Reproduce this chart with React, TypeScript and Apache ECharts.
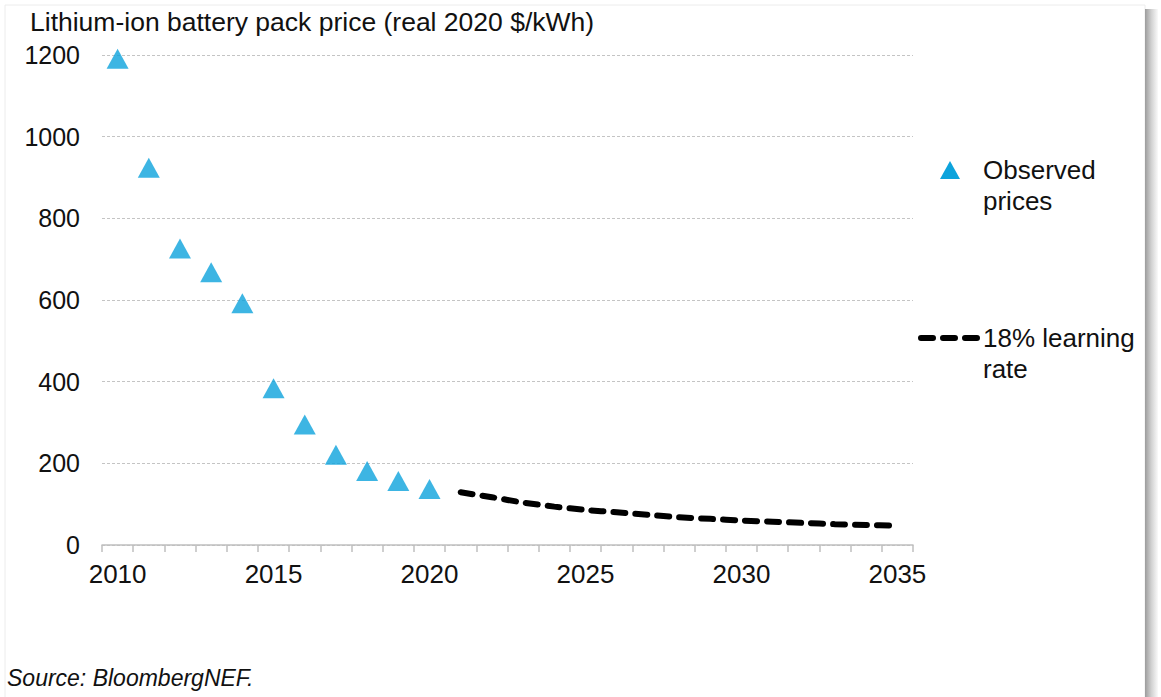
import React, { useEffect, useRef } from "react";
import * as echarts from "echarts";

const years: string[] = [
  "2010", "2011", "2012", "2013", "2014", "2015", "2016", "2017", "2018",
  "2019", "2020", "2021", "2022", "2023", "2024", "2025", "2026", "2027",
  "2028", "2029", "2030", "2031", "2032", "2033", "2034", "2035",
];
const observedPrices: (number | null)[] = [
  1191, 924, 726, 668, 592, 384, 295, 221, 181, 157, 137,
];
const learningRate: (number | null)[] = [
  null, null, null, null, null, null, null, null, null, null, null,
  129, 117, 104, 94, 86, 80, 74, 68, 64, 60, 57, 54, 51, 49, 47.5,
];
const yTicks = { min: 0, max: 1200, interval: 200 };

const FONT = "'Liberation Sans', Arial, sans-serif";
const BLUE = "#0da3dc";

export default function App() {
  const ref = useRef<HTMLDivElement>(null);
  useEffect(() => {
    document.body.style.margin = "0";
    if (!ref.current) return;
    const chart = echarts.init(ref.current, null, { renderer: "svg" });
    chart.setOption({
      animation: false,
      backgroundColor: "#ffffff",
      grid: {
        left: 102,
        right: 1161 - 913,
        top: 55,
        bottom: 697 - 545,
        outerBoundsMode: "none",
      },
      xAxis: {
        type: "category",
        data: years,
        boundaryGap: true,
        axisLine: { show: true, lineStyle: { color: "#bfbfbf", width: 1.5 } },
        axisTick: {
          show: true,
          interval: 0,
          length: 7,
          lineStyle: { color: "#bfbfbf", width: 1.5 },
        },
        axisLabel: {
          interval: 4,
          margin: 16,
          color: "#111",
          fontSize: 26,
          fontFamily: FONT,
        },
        splitLine: { show: false },
      },
      yAxis: {
        type: "value",
        min: yTicks.min,
        max: yTicks.max,
        interval: yTicks.interval,
        axisLine: { show: false },
        axisTick: { show: false },
        axisLabel: {
          margin: 22,
          color: "#111",
          fontSize: 25,
          fontFamily: FONT,
          formatter: (v: number) => String(v),
        },
        splitLine: {
          show: true,
          lineStyle: { color: "#c4c4c4", width: 1, type: [3, 2] },
        },
      },
      series: [
        {
          name: "Observed prices",
          type: "scatter",
          data: observedPrices,
          symbol: "triangle",
          symbolSize: [22, 20],
          itemStyle: { color: BLUE },
          z: 3,
        },
        {
          name: "18% learning rate",
          type: "line",
          data: learningRate,
          smooth: 0.3,
          showSymbol: false,
          symbol: "none",
          lineStyle: {
            color: "#000",
            width: 6,
            type: [12, 10],
            cap: "round",
          },
          z: 2,
        },
      ],
      graphic: [
        {
          type: "rect",
          shape: { x: 5, y: 5, width: 1140, height: 700 },
          style: { fill: "none", stroke: "#ececec", lineWidth: 1 },
          silent: true,
        },
        {
          type: "rect",
          shape: { x: 1145, y: 9, width: 13, height: 688 },
          style: {
            fill: new echarts.graphic.LinearGradient(0, 0, 1, 0, [
              { offset: 0, color: "#9c9c9c" },
              { offset: 0.5, color: "#d2d2d2" },
              { offset: 1, color: "#fafafa" },
            ]),
          },
          silent: true,
        },
        {
          type: "text",
          x: 30,
          y: 22,
          style: {
            text: "Lithium-ion battery pack price (real 2020 $/kWh)",
            fontSize: 26.5,
            fontFamily: FONT,
            fill: "#111",
            verticalAlign: "middle",
          },
        },
        {
          type: "polygon",
          shape: { points: [[950, 161], [960, 179], [940, 179]] },
          style: { fill: BLUE },
        },
        {
          type: "text",
          x: 983,
          y: 185,
          style: {
            text: "Observed\nprices",
            fontSize: 26,
            lineHeight: 31,
            fontFamily: FONT,
            fill: "#111",
            verticalAlign: "middle",
          },
        },
        {
          type: "line",
          shape: { x1: 921, y1: 338, x2: 979, y2: 338 },
          style: {
            stroke: "#000",
            lineWidth: 6,
            lineDash: [12, 10],
            lineCap: "round",
          },
        },
        {
          type: "text",
          x: 983,
          y: 353,
          style: {
            text: "18% learning\nrate",
            fontSize: 26,
            lineHeight: 31,
            fontFamily: FONT,
            fill: "#111",
            verticalAlign: "middle",
          },
        },
        {
          type: "text",
          x: 7,
          y: 678,
          style: {
            text: "Source: BloombergNEF.",
            fontSize: 23,
            fontStyle: "italic",
            fontFamily: FONT,
            fill: "#111",
            verticalAlign: "middle",
          },
        },
      ],
    });
    return () => chart.dispose();
  }, []);
  return <div ref={ref} style={{ width: 1161, height: 697 }} />;
}
